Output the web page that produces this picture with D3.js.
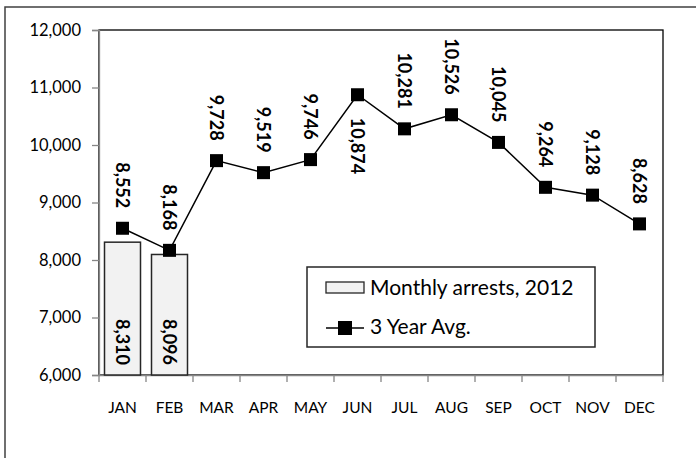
<!DOCTYPE html>
<html>
<head>
<meta charset="utf-8">
<script src="https://cdn.jsdelivr.net/npm/d3@7"></script>
<style>
  body { margin: 0; background: #fff; }
  svg { display: block; font-family: Lato, "Open Sans", sans-serif; }
</style>
</head>
<body>
<div id="chart"></div>
<script>
// chart data
var months = ["JAN", "FEB", "MAR", "APR", "MAY", "JUN", "JUL", "AUG", "SEP", "OCT", "NOV", "DEC"];
var arrests2012 = [8310, 8096];
var threeYearAvg = [8552, 8168, 9728, 9519, 9746, 10874, 10281, 10526, 10045, 9264, 9128, 8628];
var yTicks = [6000, 7000, 8000, 9000, 10000, 11000, 12000];
var seriesNames = ["Monthly arrests, 2012", "3 Year Avg."];

var width = 696, height = 458;
var plot = { left: 99, top: 30, right: 663, bottom: 375 };

var svg = d3.select("#chart").append("svg").attr("width", width).attr("height", height);

// outer chart border (runs off the right and bottom)
svg.append("rect").attr("x", 5).attr("y", 7).attr("width", 710).attr("height", 470)
    .attr("fill", "none").attr("stroke", "#404040").attr("stroke-width", 1.5);

var x = d3.scaleBand().domain(months).range([plot.left, plot.right]).padding(0);
var y = d3.scaleLinear().domain([6000, 12000]).range([plot.bottom, plot.top]);
var fmt = d3.format(",");

// plot area border
svg.append("rect").attr("x", plot.left).attr("y", plot.top)
    .attr("width", plot.right - plot.left).attr("height", plot.bottom - plot.top)
    .attr("fill", "none").attr("stroke", "#000").attr("stroke-width", 1.3);

// y axis
var yAxis = svg.append("g").attr("transform", "translate(" + plot.left + ",0)")
    .call(d3.axisLeft(y).tickValues(yTicks).tickFormat(fmt).tickSize(7).tickPadding(11));
yAxis.select(".domain").attr("stroke", "#868686").attr("stroke-width", 1.3);
yAxis.selectAll(".tick line").attr("stroke", "#868686").attr("stroke-width", 1.3);
yAxis.selectAll(".tick text").attr("font-size", 16.5).attr("fill", "#000").attr("font-family", "Lato");

// x axis, ticks on band edges
var xAxis = svg.append("g").attr("transform", "translate(0," + plot.bottom + ")")
    .call(d3.axisBottom(x).tickSize(0).tickPadding(27));
xAxis.select(".domain").attr("stroke", "#868686").attr("stroke-width", 1.3);
xAxis.selectAll(".tick text").attr("font-size", 15.5).attr("fill", "#000").attr("font-family", "Lato");
var edges = months.map(function(m) { return x(m); }).concat([plot.right]);
xAxis.selectAll(".edge").data(edges).enter().append("line")
    .attr("x1", function(d) { return d; }).attr("x2", function(d) { return d; })
    .attr("y1", 0).attr("y2", 7).attr("stroke", "#868686").attr("stroke-width", 1.3);

// bars
var barW = 36;
svg.selectAll(".bar").data(arrests2012).enter().append("rect")
    .attr("class", "bar")
    .attr("x", function(d, i) { return x(months[i]) + x.bandwidth() / 2 - barW / 2; })
    .attr("y", function(d) { return y(d); })
    .attr("width", barW)
    .attr("height", function(d) { return y(6000) - y(d); })
    .attr("fill", "#f2f2f2").attr("stroke", "#262626").attr("stroke-width", 1.5);

// bar labels, inside base, rotated
svg.selectAll(".barlab").data(arrests2012).enter().append("text")
    .attr("transform", function(d, i) {
        return "translate(" + (x(months[i]) + x.bandwidth() / 2) + "," + (plot.bottom - 10) + ") rotate(90)";
    })
    .attr("text-anchor", "end").attr("dy", "0.35em")
    .attr("font-size", 18).attr("font-weight", "bold")
    .text(function(d) { return fmt(d); });

// 3 year avg line
var line = d3.line()
    .x(function(d, i) { return x(months[i]) + x.bandwidth() / 2; })
    .y(function(d) { return y(d); });
svg.append("path").datum(threeYearAvg).attr("d", line)
    .attr("fill", "none").attr("stroke", "#000").attr("stroke-width", 1.5);

var mk = 13;
svg.selectAll(".mk").data(threeYearAvg).enter().append("rect")
    .attr("x", function(d, i) { return x(months[i]) + x.bandwidth() / 2 - mk / 2; })
    .attr("y", function(d) { return y(d) - mk / 2; })
    .attr("width", mk).attr("height", mk).attr("fill", "#000");

// point labels above (JUN sits below its marker)
svg.selectAll(".ptlab").data(threeYearAvg).enter().append("text")
    .attr("transform", function(d, i) {
        var below = months[i] == "JUN";
        var py = below ? y(d) + 23 : y(d) - 20;
        return "translate(" + (x(months[i]) + x.bandwidth() / 2) + "," + py + ") rotate(90)";
    })
    .attr("text-anchor", function(d, i) { return months[i] == "JUN" ? "start" : "end"; })
    .attr("dy", "0.35em")
    .attr("font-size", 18).attr("font-weight", "bold")
    .text(function(d) { return fmt(d); });

// legend
var lg = svg.append("g").attr("transform", "translate(307,267)");
lg.append("rect").attr("width", 288).attr("height", 80)
    .attr("fill", "#fff").attr("stroke", "#262626").attr("stroke-width", 1.5);
lg.append("rect").attr("x", 19).attr("y", 15).attr("width", 38).attr("height", 11)
    .attr("fill", "#f2f2f2").attr("stroke", "#262626").attr("stroke-width", 1.3);
lg.append("line").attr("x1", 19).attr("x2", 57).attr("y1", 61).attr("y2", 61)
    .attr("stroke", "#000").attr("stroke-width", 1.5);
lg.append("rect").attr("x", 38 - 7).attr("y", 61 - 7).attr("width", 14).attr("height", 14).attr("fill", "#000");
lg.selectAll(".lgtxt").data(seriesNames).enter().append("text")
    .attr("x", 63).attr("y", function(d, i) { return 28 + i * 39; })
    .attr("font-size", 21)
    .text(function(d) { return d; });
</script>
</body>
</html>
